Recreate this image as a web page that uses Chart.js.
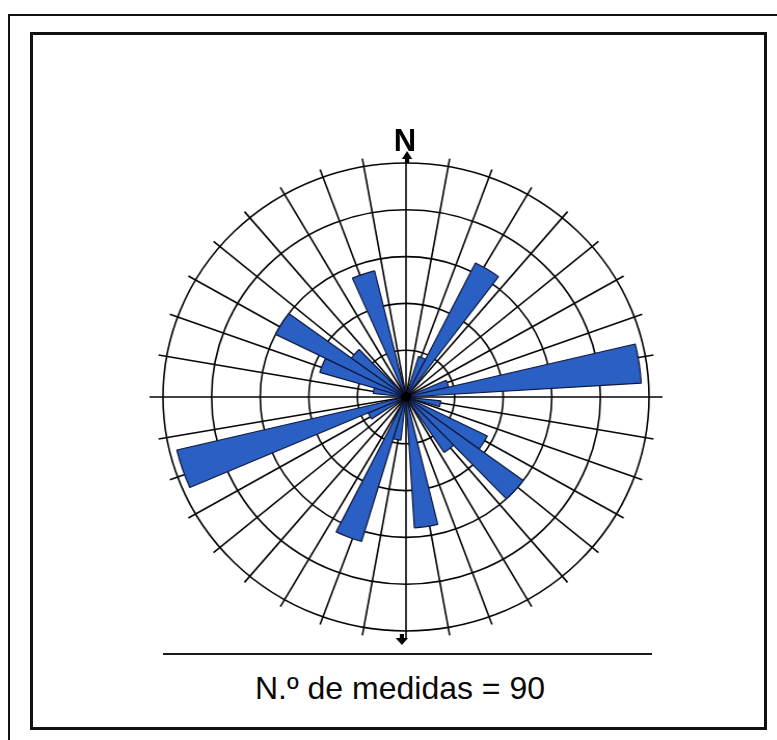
<!DOCTYPE html>
<html>
<head>
<meta charset="utf-8">
<script src="https://cdn.jsdelivr.net/npm/chart.js@4.4.1/dist/chart.umd.min.js"></script>
<style>
  html, body { margin:0; padding:0; background:#fff; width:777px; height:740px; overflow:hidden; position:relative; font-family:"Liberation Sans", Arial, sans-serif; }
  #outer { position:absolute; left:8px; top:14px; width:900px; height:900px; border-left:2px solid #111; border-top:2px solid #111; }
  #inner { position:absolute; left:30px; top:32px; width:737px; height:698px; border:3px solid #111; box-sizing:border-box; }
  #wrap { position:absolute; left:152px; top:143px; width:508px; height:508px; transform:scaleX(1.0385); transform-origin:254px 254px; }
  #north { position:absolute; left:380px; top:125px; width:50px; text-align:center; font-weight:bold; font-size:31px; line-height:31px; color:#000; }
  #rule { position:absolute; left:163px; top:653px; width:489px; height:0; border-top:2px solid #1a1a1a; }
  #caption { position:absolute; left:200px; top:672px; width:400px; text-align:center; font-size:32px; line-height:32px; color:#0a0a0a; }
</style>
</head>
<body>
<div id="outer"></div>
<div id="inner"></div>
<div id="wrap"><canvas id="c" width="508" height="508"></canvas></div>
<div id="north">N</div>
<div id="rule"></div>
<div id="caption">N.º de medidas = 90</div>
<script>
// Direction classes (degrees clockwise from North), 10° each
const directions = ["0°","10°","20°","30°","40°","50°","60°","70°","80°","90°",
                    "100°","110°","120°","130°","140°","150°","160°","170°","180°","190°",
                    "200°","210°","220°","230°","240°","250°","260°","270°","280°","290°",
                    "300°","310°","320°","330°","340°","350°"];
// Bar length per class, in units of the concentric circles
const frequencies = [0, 0, 0.9, 3.2, 0, 0, 0, 0.9, 4.85, 0,
                     0.72, 0, 1.87, 3.0, 1.42, 0, 0, 2.8, 0, 0.93,
                     3.22, 0, 0, 0, 0.85, 4.85, 0, 0, 0.68, 1.85,
                     3.0, 1.4, 0, 0, 2.77, 0];
const ringTicks = [0, 1, 2, 3, 4, 5];
const totalMeasures = 90;

const spokes = {
  id: 'spokes',
  beforeDatasetsDraw(chart) {
    const s = chart.scales.r, ctx = chart.ctx;
    const cx = s.xCenter, cy = s.yCenter, R = s.drawingArea;
    ctx.save();
    ctx.strokeStyle = '#050505';
    ctx.lineWidth = 1.6;
    directions.forEach((lab, i) => {
      const a = i * 360 / directions.length;
      let ext = R + 8;
      if (a === 90 || a === 270) ext = R + 13;
      const rad = a * Math.PI / 180;
      ctx.beginPath();
      ctx.moveTo(cx, cy);
      ctx.lineTo(cx + Math.sin(rad) * ext, cy - Math.cos(rad) * ext);
      ctx.stroke();
    });
    ctx.restore();
  },
  afterDatasetsDraw(chart) {
    const s = chart.scales.r, ctx = chart.ctx;
    const cx = s.xCenter, cy = s.yCenter, R = s.drawingArea;
    ctx.save();
    ctx.fillStyle = '#000';
    // centre blob where the spokes meet
    ctx.beginPath(); ctx.arc(cx, cy, 5, 0, Math.PI * 2); ctx.fill();
    // North arrow (up)
    ctx.beginPath();
    ctx.moveTo(cx + 1, cy - R - 12);
    ctx.lineTo(cx - 4, cy - R - 4);
    ctx.lineTo(cx + 6, cy - R - 4);
    ctx.closePath(); ctx.fill();
    ctx.fillRect(cx - 1, cy - R - 5, 4, 5);
    // South arrow (down)
    ctx.beginPath();
    ctx.moveTo(cx - 4, cy + R + 14);
    ctx.lineTo(cx - 10, cy + R + 7);
    ctx.lineTo(cx + 2, cy + R + 7);
    ctx.closePath(); ctx.fill();
    ctx.fillRect(cx - 6, cy + R + 3, 4, 5);
    ctx.restore();
  }
};

new Chart(document.getElementById('c'), {
  type: 'polarArea',
  data: {
    labels: directions,
    datasets: [{
      data: frequencies,
      backgroundColor: '#2a5fc4',
      borderColor: '#10183a',
      borderWidth: (ctx) => (ctx.raw > 0 ? 1.2 : 0)
    }]
  },
  options: {
    responsive: false,
    animation: false,
    layout: { padding: 20 },
    plugins: { legend: { display: false }, tooltip: { enabled: false } },
    scales: {
      r: {
        min: ringTicks[0],
        max: ringTicks[ringTicks.length - 1],
        startAngle: -3.5,
        ticks: { display: false, stepSize: 1 },
        grid: { circular: true, color: '#050505', lineWidth: 1.6 },
        angleLines: { display: false },
        pointLabels: { display: false }
      }
    }
  },
  plugins: [spokes]
});
</script>
</body>
</html>
